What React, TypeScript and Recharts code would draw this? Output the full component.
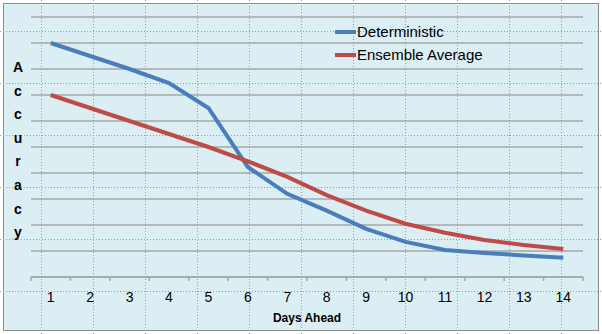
import React from 'react';
import { LineChart, Line, XAxis, YAxis, CartesianGrid } from 'recharts';

const days = [1, 2, 3, 4, 5, 6, 7, 8, 9, 10, 11, 12, 13, 14];
const deterministic = [9.0, 8.5, 8.0, 7.46, 6.5, 4.23, 3.2, 2.55, 1.85, 1.35, 1.04, 0.92, 0.83, 0.74];
const ensembleAverage = [7.0, 6.5, 6.0, 5.5, 5.0, 4.45, 3.85, 3.15, 2.55, 2.05, 1.7, 1.42, 1.23, 1.08];
const yTicks = [0, 1, 2, 3, 4, 5, 6, 7, 8, 9, 10];
const yLetters = ['A', 'c', 'c', 'u', 'r', 'a', 'c', 'y'];
const legendItems = [
  { name: 'Deterministic', color: '#4A7EBB' },
  { name: 'Ensemble Average', color: '#BE4B48' },
];

const data = days.map((d, i) => ({ day: d, det: deterministic[i], ens: ensembleAverage[i] }));

const FONT = '"Liberation Sans", Arial, sans-serif';
const W = 602;
const H = 334;
const M = { top: 17, right: 19, left: 31, bottom: 27 };
const HALF_BAND = (W - M.left - M.right) / days.length / 2;

const Tick = (props: any) => {
  const { x, y, payload, index, visibleTicksCount } = props;
  return (
    <g>
      <line x1={x - HALF_BAND} x2={x - HALF_BAND} y1={y} y2={y + 4} stroke="#A6A6A6" strokeWidth={1.5} />
      {index === visibleTicksCount - 1 && (
        <line x1={x + HALF_BAND} x2={x + HALF_BAND} y1={y} y2={y + 4} stroke="#A6A6A6" strokeWidth={1.5} />
      )}
      <text x={x} y={y + 25} textAnchor="middle" fontSize={14} fontFamily={FONT} fill="#000">
        {payload.value}
      </text>
    </g>
  );
};

const dotsV = [41, 93, 145, 197, 249, 301, 353, 405, 457, 509, 561];
const dotsH = [31, 83, 135, 187, 239, 291];

export default function App() {
  return (
    <div style={{ position: 'absolute', left: 0, top: 0, width: W, height: H, background: '#fff' }}>
      <div
        style={{
          position: 'absolute',
          left: 3,
          top: 3,
          width: 594,
          height: 326,
          background: '#DBEEF4',
          border: '1.5px solid #8C8C8C',
        }}
      />
      <svg width={W} height={H} style={{ position: 'absolute', left: 0, top: 0 }}>
        {dotsV.map((x) => (
          <line key={'v' + x} x1={x + 0.5} x2={x + 0.5} y1={0} y2={H} stroke="#9A9A9A" strokeWidth={1} strokeDasharray="1 2" />
        ))}
        {dotsH.map((y) => (
          <line key={'h' + y} x1={0} x2={W} y1={y + 0.5} y2={y + 0.5} stroke="#9A9A9A" strokeWidth={1} strokeDasharray="1 2" />
        ))}
      </svg>
      <div style={{ position: 'absolute', left: 0, top: 0 }}>
        <LineChart width={W} height={H} data={data} margin={M}>
          <CartesianGrid vertical={false} stroke="#A6A6A6" strokeWidth={1.5} />
          <YAxis width={0} domain={[0, 10]} ticks={yTicks} tickFormatter={() => ''} axisLine={false} tickLine={false} />
          <XAxis
            dataKey="day"
            height={30}
            padding={{ left: HALF_BAND, right: HALF_BAND }}
            axisLine={{ stroke: '#A6A6A6', strokeWidth: 1.5 }}
            tickLine={false}
            tickSize={0}
            tickMargin={0}
            tick={<Tick />}
            interval={0}
            label={{ value: 'Days Ahead', position: 'bottom', offset: 6, fontSize: 12, fontWeight: 'bold', fontFamily: FONT, fill: '#000' }}
          />
          <Line type="linear" dataKey="det" name="Deterministic" stroke="#4A7EBB" strokeWidth={4} dot={false} isAnimationActive={false} />
          <Line type="linear" dataKey="ens" name="Ensemble Average" stroke="#BE4B48" strokeWidth={4} dot={false} isAnimationActive={false} />
        </LineChart>
      </div>
      <div style={{ position: 'absolute', left: 335, top: 20, fontFamily: FONT, fontSize: 15 }}>
        {legendItems.map((it) => (
          <div key={it.name} style={{ display: 'flex', alignItems: 'center', height: 23 }}>
            <span style={{ display: 'inline-block', width: 21, height: 4, background: it.color, marginRight: 1 }} />
            <span>{it.name}</span>
          </div>
        ))}
      </div>
      <div style={{ position: 'absolute', left: 8, top: 56, width: 20, fontFamily: FONT, fontWeight: 'bold', fontSize: 14, textAlign: 'center', lineHeight: '23.6px' }}>
        {yLetters.map((l, i) => (
          <div key={i}>{l}</div>
        ))}
      </div>
    </div>
  );
}
